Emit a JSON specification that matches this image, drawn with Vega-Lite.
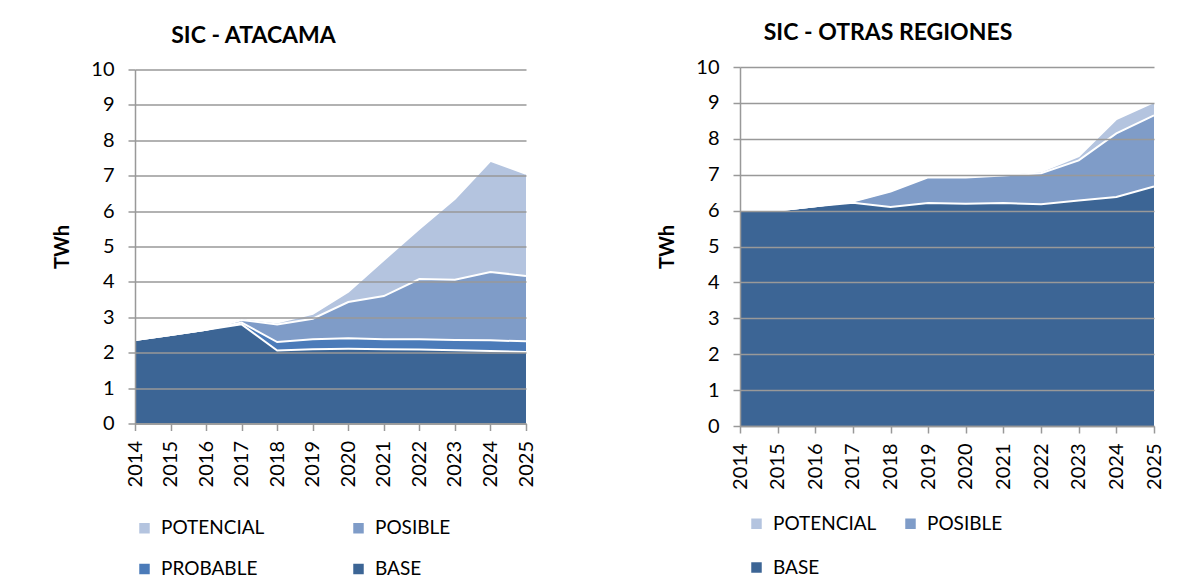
{
  "$schema": "https://vega.github.io/schema/vega-lite/v6.json",
  "padding": {"left": 52, "top": 22, "right": 0, "bottom": 0},
  "background": "white",
  "bounds": "flush",
  "spacing": 214,
  "center": true,
  "config": {
    "font": "Lato",
    "view": {"stroke": null},
    "axis": {
      "domainColor": "#999999", "domainWidth": 1.5,
      "tickColor": "#999999", "tickWidth": 1.5, "tickSize": 7,
      "gridColor": "#999999", "gridWidth": 1.5,
      "labelFont": "Lato", "labelFontSize": 20, "labelColor": "black",
      "titleFont": "Lato", "titleFontSize": 20, "titleFontWeight": "bold", "titleColor": "black"
    },
    "axisX": {"grid": false, "labelAngle": -90, "labelPadding": 10},
    "axisY": {"labelPadding": 14, "titlePadding": 18},
    "title": {"font": "Lato", "fontSize": 23, "fontWeight": "bold", "color": "black", "offset": 12},
    "legend": {
      "labelFont": "Lato", "labelFontSize": 19, "labelColor": "black",
      "symbolType": "square", "symbolSize": 110, "symbolStrokeWidth": 0, "labelOffset": 7,
      "direction": "horizontal"
    }
  },
  "datasets": {
    "atacama": [
      {"year": 2014, "serie": "BASE", "orden": 1, "twh": 2.36},
      {"year": 2014, "serie": "PROBABLE", "orden": 2, "twh": 0},
      {"year": 2014, "serie": "POSIBLE", "orden": 3, "twh": 0},
      {"year": 2014, "serie": "POTENCIAL", "orden": 4, "twh": 0.03},
      {"year": 2015, "serie": "BASE", "orden": 1, "twh": 2.50},
      {"year": 2015, "serie": "PROBABLE", "orden": 2, "twh": 0},
      {"year": 2015, "serie": "POSIBLE", "orden": 3, "twh": 0},
      {"year": 2015, "serie": "POTENCIAL", "orden": 4, "twh": 0.03},
      {"year": 2016, "serie": "BASE", "orden": 1, "twh": 2.65},
      {"year": 2016, "serie": "PROBABLE", "orden": 2, "twh": 0},
      {"year": 2016, "serie": "POSIBLE", "orden": 3, "twh": 0},
      {"year": 2016, "serie": "POTENCIAL", "orden": 4, "twh": 0.03},
      {"year": 2017, "serie": "BASE", "orden": 1, "twh": 2.80},
      {"year": 2017, "serie": "PROBABLE", "orden": 2, "twh": 0.05},
      {"year": 2017, "serie": "POSIBLE", "orden": 3, "twh": 0.07},
      {"year": 2017, "serie": "POTENCIAL", "orden": 4, "twh": 0.05},
      {"year": 2018, "serie": "BASE", "orden": 1, "twh": 2.06},
      {"year": 2018, "serie": "PROBABLE", "orden": 2, "twh": 0.24},
      {"year": 2018, "serie": "POSIBLE", "orden": 3, "twh": 0.50},
      {"year": 2018, "serie": "POTENCIAL", "orden": 4, "twh": 0.05},
      {"year": 2019, "serie": "BASE", "orden": 1, "twh": 2.10},
      {"year": 2019, "serie": "PROBABLE", "orden": 2, "twh": 0.28},
      {"year": 2019, "serie": "POSIBLE", "orden": 3, "twh": 0.58},
      {"year": 2019, "serie": "POTENCIAL", "orden": 4, "twh": 0.14},
      {"year": 2020, "serie": "BASE", "orden": 1, "twh": 2.11},
      {"year": 2020, "serie": "PROBABLE", "orden": 2, "twh": 0.30},
      {"year": 2020, "serie": "POSIBLE", "orden": 3, "twh": 1.02},
      {"year": 2020, "serie": "POTENCIAL", "orden": 4, "twh": 0.29},
      {"year": 2021, "serie": "BASE", "orden": 1, "twh": 2.10},
      {"year": 2021, "serie": "PROBABLE", "orden": 2, "twh": 0.28},
      {"year": 2021, "serie": "POSIBLE", "orden": 3, "twh": 1.22},
      {"year": 2021, "serie": "POTENCIAL", "orden": 4, "twh": 1.02},
      {"year": 2022, "serie": "BASE", "orden": 1, "twh": 2.09},
      {"year": 2022, "serie": "PROBABLE", "orden": 2, "twh": 0.29},
      {"year": 2022, "serie": "POSIBLE", "orden": 3, "twh": 1.70},
      {"year": 2022, "serie": "POTENCIAL", "orden": 4, "twh": 1.42},
      {"year": 2023, "serie": "BASE", "orden": 1, "twh": 2.07},
      {"year": 2023, "serie": "PROBABLE", "orden": 2, "twh": 0.29},
      {"year": 2023, "serie": "POSIBLE", "orden": 3, "twh": 1.70},
      {"year": 2023, "serie": "POTENCIAL", "orden": 4, "twh": 2.29},
      {"year": 2024, "serie": "BASE", "orden": 1, "twh": 2.05},
      {"year": 2024, "serie": "PROBABLE", "orden": 2, "twh": 0.30},
      {"year": 2024, "serie": "POSIBLE", "orden": 3, "twh": 1.93},
      {"year": 2024, "serie": "POTENCIAL", "orden": 4, "twh": 3.14},
      {"year": 2025, "serie": "BASE", "orden": 1, "twh": 2.02},
      {"year": 2025, "serie": "PROBABLE", "orden": 2, "twh": 0.30},
      {"year": 2025, "serie": "POSIBLE", "orden": 3, "twh": 1.85},
      {"year": 2025, "serie": "POTENCIAL", "orden": 4, "twh": 2.88}
    ],
    "otras": [
      {"year": 2014, "serie": "BASE", "orden": 1, "twh": 6.01},
      {"year": 2014, "serie": "POSIBLE", "orden": 3, "twh": 0},
      {"year": 2014, "serie": "POTENCIAL", "orden": 4, "twh": 0},
      {"year": 2015, "serie": "BASE", "orden": 1, "twh": 6.00},
      {"year": 2015, "serie": "POSIBLE", "orden": 3, "twh": 0},
      {"year": 2015, "serie": "POTENCIAL", "orden": 4, "twh": 0},
      {"year": 2016, "serie": "BASE", "orden": 1, "twh": 6.12},
      {"year": 2016, "serie": "POSIBLE", "orden": 3, "twh": 0},
      {"year": 2016, "serie": "POTENCIAL", "orden": 4, "twh": 0},
      {"year": 2017, "serie": "BASE", "orden": 1, "twh": 6.22},
      {"year": 2017, "serie": "POSIBLE", "orden": 3, "twh": 0.03},
      {"year": 2017, "serie": "POTENCIAL", "orden": 4, "twh": 0.02},
      {"year": 2018, "serie": "BASE", "orden": 1, "twh": 6.10},
      {"year": 2018, "serie": "POSIBLE", "orden": 3, "twh": 0.43},
      {"year": 2018, "serie": "POTENCIAL", "orden": 4, "twh": 0.02},
      {"year": 2019, "serie": "BASE", "orden": 1, "twh": 6.21},
      {"year": 2019, "serie": "POSIBLE", "orden": 3, "twh": 0.72},
      {"year": 2019, "serie": "POTENCIAL", "orden": 4, "twh": 0.02},
      {"year": 2020, "serie": "BASE", "orden": 1, "twh": 6.19},
      {"year": 2020, "serie": "POSIBLE", "orden": 3, "twh": 0.73},
      {"year": 2020, "serie": "POTENCIAL", "orden": 4, "twh": 0.02},
      {"year": 2021, "serie": "BASE", "orden": 1, "twh": 6.21},
      {"year": 2021, "serie": "POSIBLE", "orden": 3, "twh": 0.77},
      {"year": 2021, "serie": "POTENCIAL", "orden": 4, "twh": 0.04},
      {"year": 2022, "serie": "BASE", "orden": 1, "twh": 6.18},
      {"year": 2022, "serie": "POSIBLE", "orden": 3, "twh": 0.86},
      {"year": 2022, "serie": "POTENCIAL", "orden": 4, "twh": 0.05},
      {"year": 2023, "serie": "BASE", "orden": 1, "twh": 6.28},
      {"year": 2023, "serie": "POSIBLE", "orden": 3, "twh": 1.12},
      {"year": 2023, "serie": "POTENCIAL", "orden": 4, "twh": 0.12},
      {"year": 2024, "serie": "BASE", "orden": 1, "twh": 6.38},
      {"year": 2024, "serie": "POSIBLE", "orden": 3, "twh": 1.77},
      {"year": 2024, "serie": "POTENCIAL", "orden": 4, "twh": 0.40},
      {"year": 2025, "serie": "BASE", "orden": 1, "twh": 6.67},
      {"year": 2025, "serie": "POSIBLE", "orden": 3, "twh": 1.98},
      {"year": 2025, "serie": "POTENCIAL", "orden": 4, "twh": 0.37}
    ]
  },
  "hconcat": [
    {
      "width": 391,
      "height": 354,
      "title": {"text": "SIC  - ATACAMA", "dx": -77},
      "data": {"name": "atacama"},
      "transform": [
        {"stack": "twh", "groupby": ["year"], "sort": [{"field": "orden"}], "as": ["v0", "v1"]}
      ],
      "encoding": {
        "x": {
          "field": "year", "type": "quantitative",
          "scale": {"domain": [2014, 2025], "nice": false, "zero": false},
          "axis": {"values": [2014, 2015, 2016, 2017, 2018, 2019, 2020, 2021, 2022, 2023, 2024, 2025], "format": "d", "title": null, "zindex": 1}
        },
        "y": {
          "field": "v1", "type": "quantitative",
          "scale": {"domain": [0, 10], "nice": false},
          "axis": {"values": [0, 1, 2, 3, 4, 5, 6, 7, 8, 9, 10], "title": "TWh", "zindex": 1}
        }
      },
      "layer": [
        {
          "mark": {"type": "area", "opacity": 1},
          "encoding": {
            "y2": {"field": "v0"},
            "color": {
              "field": "serie", "type": "nominal",
              "scale": {"domain": ["POTENCIAL", "POSIBLE", "PROBABLE", "BASE"], "range": ["#b4c4df", "#7f9cc8", "#4b7bb9", "#3c6595"]},
              "legend": {"title": null, "orient": "none", "legendX": 0, "legendY": 449, "columns": 2, "columnPadding": 84, "rowPadding": 21}
            }
          }
        },
        {
          "mark": {"type": "line", "color": "white", "strokeWidth": 2},
          "encoding": {"detail": {"field": "serie"}}
        }
      ]
    },
    {
      "width": 414,
      "height": 359,
      "title": {"text": "SIC - OTRAS REGIONES", "dx": -59},
      "data": {"name": "otras"},
      "transform": [
        {"stack": "twh", "groupby": ["year"], "sort": [{"field": "orden"}], "as": ["v0", "v1"]}
      ],
      "encoding": {
        "x": {
          "field": "year", "type": "quantitative",
          "scale": {"domain": [2014, 2025], "nice": false, "zero": false},
          "axis": {"values": [2014, 2015, 2016, 2017, 2018, 2019, 2020, 2021, 2022, 2023, 2024, 2025], "format": "d", "title": null, "zindex": 1}
        },
        "y": {
          "field": "v1", "type": "quantitative",
          "scale": {"domain": [0, 10], "nice": false},
          "axis": {"values": [0, 1, 2, 3, 4, 5, 6, 7, 8, 9, 10], "title": "TWh", "zindex": 1}
        }
      },
      "layer": [
        {
          "mark": {"type": "area", "opacity": 1},
          "encoding": {
            "y2": {"field": "v0"},
            "color": {
              "field": "serie", "type": "nominal",
              "scale": {"domain": ["POTENCIAL", "POSIBLE", "BASE"], "range": ["#b4c4df", "#7f9cc8", "#3c6595"]},
              "legend": {"title": null, "orient": "none", "legendX": 7, "legendY": 447, "columns": 2, "columnPadding": 24, "rowPadding": 24}
            }
          }
        },
        {
          "mark": {"type": "line", "color": "white", "strokeWidth": 2},
          "encoding": {"detail": {"field": "serie"}}
        }
      ]
    }
  ],
  "resolve": {"scale": {"color": "independent", "x": "independent", "y": "independent"}}
}
